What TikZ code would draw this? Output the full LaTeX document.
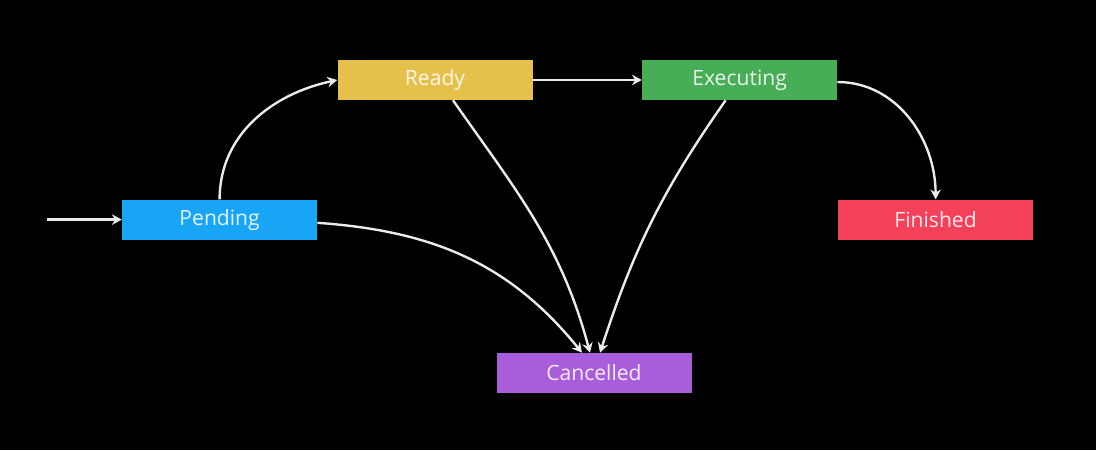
\documentclass[tikz,border=0pt]{standalone}
\usepackage{fontspec}
\setmainfont{Open Sans}
\usetikzlibrary{arrows.meta}
\definecolor{pendingblue}{HTML}{19A5F6}
\definecolor{readyyellow}{HTML}{E5C04A}
\definecolor{execgreen}{HTML}{47AD56}
\definecolor{finishedred}{HTML}{F3415A}
\definecolor{cancelpurple}{HTML}{A85DDA}
\tikzstyle{state}=[rectangle, minimum width=4.875cm, minimum height=1cm, inner sep=0pt, anchor=center, text=white, text opacity=0.88, font=\fontsize{15}{18}\selectfont]
\tikzstyle{trans}=[draw=white!92!black, line width=1.7pt, -{Stealth[length=7pt,width=7.5pt]}]

\begin{document}
\begin{tikzpicture}
	\useasboundingbox (0,0) rectangle (27.4,-11.25);
	\fill[black] (0,0) rectangle (27.4,-11.25);

	\coordinate (start) at (1.175,-5.49);

	\node[state, fill=pendingblue](pending) at (5.49,-5.49){Pending};
	\node[state, fill=readyyellow](ready) at (10.875,-2.0){Ready};
	\node[state, fill=execgreen](executing) at (18.49,-2.0){Executing};
	\node[state, fill=finishedred](finished) at (23.39,-5.49){Finished};
	\node[state, fill=cancelpurple](cancelled) at (14.85,-9.325){Cancelled};

	\draw[trans] (start) -- (pending.west);
	\draw[trans] (pending.north) to[out=90, in=192] (ready.west);
	\draw[trans] (ready.east) -- (executing.west);
	\draw[trans] ([yshift=-0.05cm]executing.east) to[out=0, in=90] (finished.north);
	%\draw[trans] (pending.east) -- (cancelled.north);
	\draw[trans] ([yshift=-0.08cm]pending.east) to[out=-4, in=129] ([xshift=-0.3cm]cancelled.north);
	\draw[trans] ([xshift=0.45cm]ready.south) to[out=-55, in=105] ([xshift=-0.1cm]cancelled.north);
	\draw[trans] ([xshift=-0.35cm]executing.south) to[out=-125, in=72] ([xshift=0.15cm]cancelled.north);

\end{tikzpicture}
\end{document}
